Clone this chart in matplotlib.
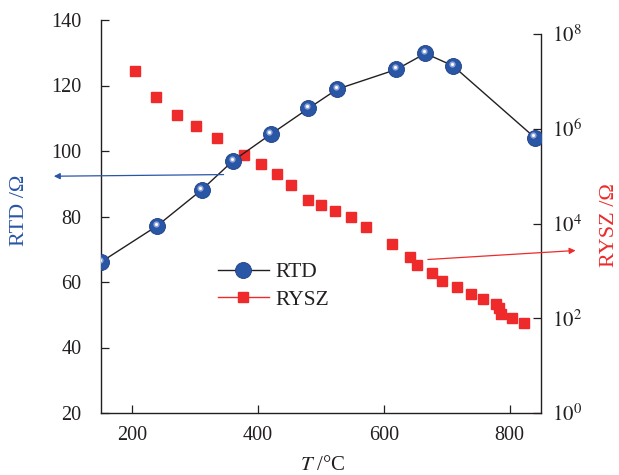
import numpy as np
import matplotlib
matplotlib.use("Agg")
import matplotlib.pyplot as plt
from matplotlib.lines import Line2D
from matplotlib.ticker import FixedLocator, NullLocator
from matplotlib.transforms import offset_copy

plt.rcParams.update({
    "font.family": ["Liberation Serif", "DejaVu Serif"],
    "mathtext.fontset": "stix",
    "font.size": 14.5,
    "axes.linewidth": 1.0,
    "axes.edgecolor": "#231f20",
    "xtick.color": "#231f20",
    "ytick.color": "#231f20",
    "text.color": "#231f20",
})

# ── Data ─────────────────────────────────────────────────────
rtd_T = [150, 239, 310, 360, 420, 480, 526, 620, 666, 710, 840]
rtd_R = [66.1, 77.1, 88.1, 97.0, 105.1, 113.0, 118.9, 124.9, 129.8, 126.0, 104.1]

ysz_T = [204, 237, 271, 301, 334, 377, 404, 430, 452, 479, 500, 523, 548,
         572, 613, 642, 653, 676, 692, 716, 738, 758, 779, 783, 787, 804, 823]
ysz_logR = [7.22, 6.67, 6.30, 6.05, 5.80, 5.45, 5.25, 5.04, 4.82, 4.49, 4.40,
            4.27, 4.13, 3.92, 3.56, 3.30, 3.13, 2.96, 2.79, 2.65, 2.52, 2.40,
            2.30, 2.21, 2.10, 2.00, 1.89]
ysz_R = [10 ** v for v in ysz_logR]

x_ticks = [200, 400, 600, 800]
left_ticks = [20, 40, 60, 80, 100, 120, 140]
right_ticks = [1e0, 1e2, 1e4, 1e6, 1e8]
right_labels = [r"$10^{0}$", r"$10^{2}$", r"$10^{4}$", r"$10^{6}$", r"$10^{8}$"]

blue = "#2a56a6"
red = "#ee2a2a"

# ── Layout ───────────────────────────────────────────────────
W, H = 619, 475
fig = plt.figure(figsize=(W / 100, H / 100), dpi=100)
left, right, bottom = 101 / W, 541 / W, (H - 413) / H
top_l, top_r = (H - 20) / H, (H - 34) / H

ax2 = fig.add_axes([left, bottom, right - left, top_r - bottom])
ax1 = fig.add_axes([left, bottom, right - left, top_l - bottom])
for a in (ax1, ax2):
    a.patch.set_visible(False)
    a.set_xlim(150, 850)

# ── RYSZ (log, right axis) ───────────────────────────────────
ax2.set_yscale("log")
ax2.set_ylim(1e0, 1e8)
ax2.plot(ysz_T, ysz_R, ls="none", marker="s", ms=6.5, color=red, mec=red)
for s in ("left", "top", "bottom"):
    ax2.spines[s].set_visible(False)
ax2.xaxis.set_visible(False)
ax2.yaxis.tick_right()
ax2.yaxis.set_major_locator(FixedLocator(right_ticks))
ax2.yaxis.set_minor_locator(NullLocator())
ax2.set_yticklabels(right_labels)
ax2.tick_params(axis="y", direction="in", length=6, width=0.9, pad=8,
                labelsize=15)
ax2.annotate("", xy=(905, 10 ** 3.43), xytext=(670, 10 ** 3.24),
             annotation_clip=False,
             arrowprops=dict(arrowstyle="-|>", color=red, lw=0.9,
                             mutation_scale=9, shrinkA=0, shrinkB=0))
fig.text(610 / W, 1 - 225 / H, "RYSZ /Ω", color=red, rotation=90,
         ha="center", va="center", fontsize=16)

# ── RTD (linear, left axis) ──────────────────────────────────
ax1.plot(rtd_T, rtd_R, color="#231f20", lw=1.0, zorder=3)
ax1.plot(rtd_T, rtd_R, ls="none", marker="o", ms=11.5, color=blue,
         mec="#1d3f85", mew=0.6, zorder=4)
hl = offset_copy(ax1.transData, fig=fig, x=-1.0, y=1.6, units="points")
ax1.plot(rtd_T, rtd_R, ls="none", marker="o", ms=4.5, color="#8fa6d6",
         mew=0, transform=hl, zorder=5)
ax1.plot(rtd_T, rtd_R, ls="none", marker="o", ms=2.2, color="white",
         mew=0, transform=hl, zorder=6)
ax1.set_ylim(20, 140)
ax1.spines["top"].set_visible(False)
ax1.spines["right"].set_visible(False)
ax1.set_xticks(x_ticks)
ax1.set_yticks(left_ticks)
ax1.tick_params(direction="in", length=6, width=0.9, labelsize=14.5)
ax1.tick_params(axis="x", pad=9)
ax1.tick_params(axis="y", pad=14)
ax1.annotate("", xy=(75, 92.3), xytext=(345, 92.8), annotation_clip=False,
             arrowprops=dict(arrowstyle="-|>", color=blue, lw=0.9,
                             mutation_scale=9, shrinkA=0, shrinkB=0))
fig.text(20 / W, 1 - 210 / H, "RTD /Ω", color=blue, rotation=90,
         ha="center", va="center", fontsize=16)
fig.text(323 / W, 1 - 465 / H, r"$T$ /°C", ha="center", va="center",
         fontsize=15)

# ── Legend ───────────────────────────────────────────────────
h_rtd = Line2D([], [], color="#231f20", lw=1.0, marker="o", ms=11.5,
               mfc=blue, mec="#1d3f85", mew=0.6)
h_ysz = Line2D([], [], color=red, lw=1.0, marker="s", ms=6.5,
               mfc=red, mec=red)
ax1.legend([h_rtd, h_ysz], ["RTD", "RYSZ"], loc="center left",
           bbox_to_anchor=(0.265, 0.323), frameon=False, fontsize=15.5,
           handlelength=2.4, handletextpad=0.3, labelspacing=0.35,
           borderpad=0, borderaxespad=0)

fig.savefig("out.png", dpi=100, facecolor="white")
